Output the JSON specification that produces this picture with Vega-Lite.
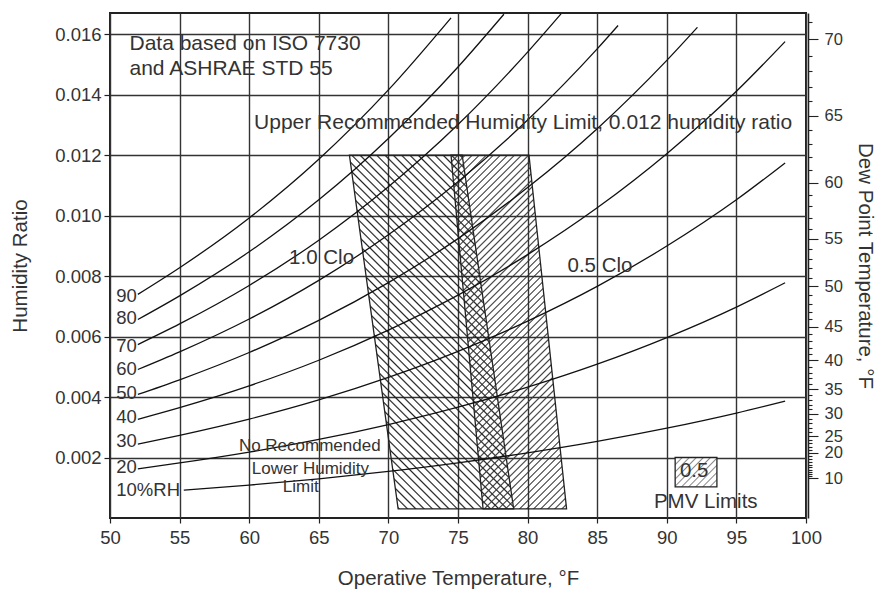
{
"$schema": "https://vega.github.io/schema/vega-lite/v6.json",
"width": 696, "height": 505,
"autosize": {"type": "none"},
"padding": {"left": 110, "top": 13, "right": 69, "bottom": 72},
"background": "white",
"datasets": {
"rh": [
{"rh":90,"T":52,"W":0.007395},{"rh":90,"T":55,"W":0.008276},{"rh":90,"T":60,"W":0.009922},{"rh":90,"T":65,"W":0.011863},{"rh":90,"T":70,"W":0.014156},{"rh":90,"T":74.5,"W":0.01654},
{"rh":80,"T":52,"W":0.006564},{"rh":80,"T":55,"W":0.007346},{"rh":80,"T":60,"W":0.008804},{"rh":80,"T":65,"W":0.010523},{"rh":80,"T":70,"W":0.012551},{"rh":80,"T":75,"W":0.014915},{"rh":80,"T":78.3,"W":0.01666},
{"rh":70,"T":52,"W":0.005736},{"rh":70,"T":55,"W":0.006418},{"rh":70,"T":60,"W":0.00769},{"rh":70,"T":65,"W":0.009188},{"rh":70,"T":70,"W":0.010954},{"rh":70,"T":75,"W":0.013011},{"rh":70,"T":80,"W":0.015407},{"rh":70,"T":82.4,"W":0.01667},
{"rh":60,"T":52,"W":0.00491},{"rh":60,"T":55,"W":0.005493},{"rh":60,"T":60,"W":0.00658},{"rh":60,"T":65,"W":0.007859},{"rh":60,"T":70,"W":0.009366},{"rh":60,"T":75,"W":0.011119},{"rh":60,"T":80,"W":0.013159},{"rh":60,"T":85,"W":0.015514},{"rh":60,"T":86.5,"W":0.016287},
{"rh":50,"T":52,"W":0.004086},{"rh":50,"T":55,"W":0.004571},{"rh":50,"T":60,"W":0.005473},{"rh":50,"T":65,"W":0.006535},{"rh":50,"T":70,"W":0.007785},{"rh":50,"T":75,"W":0.009238},{"rh":50,"T":80,"W":0.010928},{"rh":50,"T":85,"W":0.012875},{"rh":50,"T":90,"W":0.015134},{"rh":50,"T":92.2,"W":0.016228},
{"rh":40,"T":52,"W":0.003265},{"rh":40,"T":55,"W":0.003651},{"rh":40,"T":60,"W":0.004371},{"rh":40,"T":65,"W":0.005217},{"rh":40,"T":70,"W":0.006213},{"rh":40,"T":75,"W":0.007369},{"rh":40,"T":80,"W":0.008711},{"rh":40,"T":85,"W":0.010258},{"rh":40,"T":90,"W":0.012048},{"rh":40,"T":95,"W":0.014111},{"rh":40,"T":98.5,"W":0.015755},
{"rh":30,"T":52,"W":0.002445},{"rh":30,"T":55,"W":0.002735},{"rh":30,"T":60,"W":0.003272},{"rh":30,"T":65,"W":0.003905},{"rh":30,"T":70,"W":0.004648},{"rh":30,"T":75,"W":0.00551},{"rh":30,"T":80,"W":0.006511},{"rh":30,"T":85,"W":0.007661},{"rh":30,"T":90,"W":0.008993},{"rh":30,"T":95,"W":0.010523},{"rh":30,"T":98.5,"W":0.011742},
{"rh":20,"T":52,"W":0.001628},{"rh":20,"T":55,"W":0.00182},{"rh":20,"T":60,"W":0.002178},{"rh":20,"T":65,"W":0.002598},{"rh":20,"T":70,"W":0.003091},{"rh":20,"T":75,"W":0.003663},{"rh":20,"T":80,"W":0.004326},{"rh":20,"T":85,"W":0.005087},{"rh":20,"T":90,"W":0.005966},{"rh":20,"T":95,"W":0.006976},{"rh":20,"T":98.5,"W":0.007779},
{"rh":10,"T":55.3,"W":0.00092},{"rh":10,"T":60,"W":0.001087},{"rh":10,"T":65,"W":0.001296},{"rh":10,"T":70,"W":0.001542},{"rh":10,"T":75,"W":0.001826},{"rh":10,"T":80,"W":0.002155},{"rh":10,"T":85,"W":0.002533},{"rh":10,"T":90,"W":0.002969},{"rh":10,"T":95,"W":0.003469},{"rh":10,"T":98.5,"W":0.003865}
],
"zones": [
{"zone":"1.0","W":0.012,"Tl":67.2,"Tr":75.3},{"zone":"1.0","W":0.0003,"Tl":70.7,"Tr":79.0},
{"zone":"0.5","W":0.012,"Tl":74.5,"Tr":80.1},{"zone":"0.5","W":0.0003,"Tl":76.8,"Tr":82.8}
],
"box": [{"T1":90.6,"T2":93.6,"W1":0.00103,"W2":0.002}],
"labels": [
{"text":"Data based on ISO 7730","T":51.4,"W":0.01566,"g":"note"},
{"text":"and ASHRAE STD 55","T":51.4,"W":0.01485,"g":"note"},
{"text":"Upper Recommended Humidity Limit, 0.012 humidity ratio","T":60.35,"W":0.01305,"g":"note"},
{"text":"1.0 Clo","T":65.2,"W":0.00859,"g":"clo"},
{"text":"0.5 Clo","T":85.2,"W":0.00832,"g":"clo"},
{"text":"PMV Limits","T":92.8,"W":0.00054,"g":"clo"},
{"text":"No Recommended","T":64.35,"W":0.00237,"g":"low"},
{"text":"Lower Humidity","T":64.4,"W":0.00162,"g":"low"},
{"text":"Limit","T":63.7,"W":0.00103,"g":"low"},
{"text":"0.5","T":91.97,"W":0.00155,"g":"clo"},
{"text":"90","T":50.45,"W":0.007325,"g":"rh"},
{"text":"80","T":50.45,"W":0.006604,"g":"rh"},
{"text":"70","T":50.45,"W":0.005694,"g":"rh"},
{"text":"60","T":50.45,"W":0.00494,"g":"rh"},
{"text":"50","T":50.45,"W":0.004141,"g":"rh"},
{"text":"40","T":50.45,"W":0.003331,"g":"rh"},
{"text":"30","T":50.45,"W":0.002532,"g":"rh"},
{"text":"20","T":50.45,"W":0.0017,"g":"rh"},
{"text":"10%RH","T":50.45,"W":0.000924,"g":"rh"}
]
},
"layer": [
{"layer": [
{"data":{"name":"zones"},"transform":[{"filter":"datum.zone=='1.0'"}],
 "mark":{"type":"area","orient":"horizontal","stroke":"#222","strokeWidth":1.3,
  "fill":{"gradient":"linear","x1":0,"y1":1,"x2":0.5575,"y2":-0.2047,"stops":[
{"offset":0,"color":"#222"},{"offset":0.003,"color":"transparent"},{"offset":0.013,"color":"transparent"},
{"offset":0.016,"color":"#222"},{"offset":0.019,"color":"transparent"},{"offset":0.029,"color":"transparent"},
{"offset":0.032,"color":"#222"},{"offset":0.035,"color":"transparent"},{"offset":0.045,"color":"transparent"},
{"offset":0.048,"color":"#222"},{"offset":0.051,"color":"transparent"},{"offset":0.061,"color":"transparent"},
{"offset":0.064,"color":"#222"},{"offset":0.067,"color":"transparent"},{"offset":0.077,"color":"transparent"},
{"offset":0.08,"color":"#222"},{"offset":0.083,"color":"transparent"},{"offset":0.093,"color":"transparent"},
{"offset":0.096,"color":"#222"},{"offset":0.099,"color":"transparent"},{"offset":0.109,"color":"transparent"},
{"offset":0.112,"color":"#222"},{"offset":0.115,"color":"transparent"},{"offset":0.125,"color":"transparent"},
{"offset":0.128,"color":"#222"},{"offset":0.131,"color":"transparent"},{"offset":0.141,"color":"transparent"},
{"offset":0.144,"color":"#222"},{"offset":0.147,"color":"transparent"},{"offset":0.157,"color":"transparent"},
{"offset":0.16,"color":"#222"},{"offset":0.163,"color":"transparent"},{"offset":0.173,"color":"transparent"},
{"offset":0.176,"color":"#222"},{"offset":0.179,"color":"transparent"},{"offset":0.189,"color":"transparent"},
{"offset":0.192,"color":"#222"},{"offset":0.195,"color":"transparent"},{"offset":0.205,"color":"transparent"},
{"offset":0.208,"color":"#222"},{"offset":0.211,"color":"transparent"},{"offset":0.221,"color":"transparent"},
{"offset":0.224,"color":"#222"},{"offset":0.227,"color":"transparent"},{"offset":0.237,"color":"transparent"},
{"offset":0.24,"color":"#222"},{"offset":0.243,"color":"transparent"},{"offset":0.253,"color":"transparent"},
{"offset":0.256,"color":"#222"},{"offset":0.259,"color":"transparent"},{"offset":0.269,"color":"transparent"},
{"offset":0.272,"color":"#222"},{"offset":0.275,"color":"transparent"},{"offset":0.285,"color":"transparent"},
{"offset":0.288,"color":"#222"},{"offset":0.291,"color":"transparent"},{"offset":0.301,"color":"transparent"},
{"offset":0.304,"color":"#222"},{"offset":0.307,"color":"transparent"},{"offset":0.317,"color":"transparent"},
{"offset":0.32,"color":"#222"},{"offset":0.323,"color":"transparent"},{"offset":0.333,"color":"transparent"},
{"offset":0.336,"color":"#222"},{"offset":0.339,"color":"transparent"},{"offset":0.349,"color":"transparent"},
{"offset":0.352,"color":"#222"},{"offset":0.355,"color":"transparent"},{"offset":0.365,"color":"transparent"},
{"offset":0.368,"color":"#222"},{"offset":0.371,"color":"transparent"},{"offset":0.381,"color":"transparent"},
{"offset":0.384,"color":"#222"},{"offset":0.387,"color":"transparent"},{"offset":0.397,"color":"transparent"},
{"offset":0.4,"color":"#222"},{"offset":0.403,"color":"transparent"},{"offset":0.413,"color":"transparent"},
{"offset":0.416,"color":"#222"},{"offset":0.419,"color":"transparent"},{"offset":0.429,"color":"transparent"},
{"offset":0.432,"color":"#222"},{"offset":0.435,"color":"transparent"},{"offset":0.445,"color":"transparent"},
{"offset":0.448,"color":"#222"},{"offset":0.451,"color":"transparent"},{"offset":0.461,"color":"transparent"},
{"offset":0.464,"color":"#222"},{"offset":0.467,"color":"transparent"},{"offset":0.477,"color":"transparent"},
{"offset":0.48,"color":"#222"},{"offset":0.483,"color":"transparent"},{"offset":0.493,"color":"transparent"},
{"offset":0.496,"color":"#222"},{"offset":0.499,"color":"transparent"},{"offset":0.509,"color":"transparent"},
{"offset":0.512,"color":"#222"},{"offset":0.515,"color":"transparent"},{"offset":0.525,"color":"transparent"},
{"offset":0.528,"color":"#222"},{"offset":0.531,"color":"transparent"},{"offset":0.541,"color":"transparent"},
{"offset":0.544,"color":"#222"},{"offset":0.547,"color":"transparent"},{"offset":0.557,"color":"transparent"},
{"offset":0.56,"color":"#222"},{"offset":0.563,"color":"transparent"},{"offset":0.573,"color":"transparent"},
{"offset":0.576,"color":"#222"},{"offset":0.579,"color":"transparent"},{"offset":0.589,"color":"transparent"},
{"offset":0.592,"color":"#222"},{"offset":0.595,"color":"transparent"},{"offset":0.605,"color":"transparent"},
{"offset":0.608,"color":"#222"},{"offset":0.611,"color":"transparent"},{"offset":0.621,"color":"transparent"},
{"offset":0.624,"color":"#222"},{"offset":0.627,"color":"transparent"},{"offset":0.637,"color":"transparent"},
{"offset":0.64,"color":"#222"},{"offset":0.643,"color":"transparent"},{"offset":0.653,"color":"transparent"},
{"offset":0.656,"color":"#222"},{"offset":0.659,"color":"transparent"},{"offset":0.669,"color":"transparent"},
{"offset":0.672,"color":"#222"},{"offset":0.675,"color":"transparent"},{"offset":0.685,"color":"transparent"},
{"offset":0.688,"color":"#222"},{"offset":0.691,"color":"transparent"},{"offset":0.701,"color":"transparent"},
{"offset":0.704,"color":"#222"},{"offset":0.707,"color":"transparent"},{"offset":0.717,"color":"transparent"},
{"offset":0.72,"color":"#222"},{"offset":0.723,"color":"transparent"},{"offset":0.733,"color":"transparent"},
{"offset":0.736,"color":"#222"},{"offset":0.739,"color":"transparent"},{"offset":0.749,"color":"transparent"},
{"offset":0.752,"color":"#222"},{"offset":0.755,"color":"transparent"},{"offset":0.765,"color":"transparent"},
{"offset":0.768,"color":"#222"},{"offset":0.771,"color":"transparent"},{"offset":0.781,"color":"transparent"},
{"offset":0.784,"color":"#222"},{"offset":0.787,"color":"transparent"},{"offset":0.797,"color":"transparent"},
{"offset":0.8,"color":"#222"},{"offset":0.803,"color":"transparent"},{"offset":0.813,"color":"transparent"},
{"offset":0.816,"color":"#222"},{"offset":0.819,"color":"transparent"},{"offset":0.829,"color":"transparent"},
{"offset":0.832,"color":"#222"},{"offset":0.835,"color":"transparent"},{"offset":0.845,"color":"transparent"},
{"offset":0.848,"color":"#222"},{"offset":0.851,"color":"transparent"},{"offset":0.861,"color":"transparent"},
{"offset":0.864,"color":"#222"},{"offset":0.867,"color":"transparent"},{"offset":0.877,"color":"transparent"},
{"offset":0.88,"color":"#222"},{"offset":0.883,"color":"transparent"},{"offset":0.893,"color":"transparent"},
{"offset":0.896,"color":"#222"},{"offset":0.899,"color":"transparent"},{"offset":0.909,"color":"transparent"},
{"offset":0.912,"color":"#222"},{"offset":0.915,"color":"transparent"},{"offset":0.925,"color":"transparent"},
{"offset":0.928,"color":"#222"},{"offset":0.931,"color":"transparent"},{"offset":0.941,"color":"transparent"},
{"offset":0.944,"color":"#222"},{"offset":0.947,"color":"transparent"},{"offset":0.957,"color":"transparent"},
{"offset":0.96,"color":"#222"},{"offset":0.963,"color":"transparent"},{"offset":0.973,"color":"transparent"},
{"offset":0.976,"color":"#222"},{"offset":0.979,"color":"transparent"},{"offset":0.989,"color":"transparent"},
{"offset":0.992,"color":"#222"},{"offset":0.995,"color":"transparent"},{"offset":1,"color":"transparent"}
  ]}},
 "encoding":{
  "y":{"field":"W","type":"quantitative","title":"Humidity Ratio","scale":{"domain":[0,0.0167],"nice":false,"zero":false},
   "axis":{"orient":"left","values":[0.002,0.004,0.006,0.008,0.01,0.012,0.014,0.016],"format":".3f","grid":true,"gridColor":"#333","gridWidth":1.4,"domain":false,"tickSize":6,"tickColor":"#222","tickWidth":1.2,"labelFontSize":18.5,"labelPadding":3,"labelColor":"#333","labelFlush":false,"titleFontSize":20.5,"titlePadding":24,"titleColor":"#333","titleFontWeight":"normal"}},
  "x":{"field":"Tl","type":"quantitative","title":"Operative Temperature, °F","scale":{"domain":[50,100],"nice":false,"zero":false},
   "axis":{"orient":"bottom","values":[50,55,60,65,70,75,80,85,90,95,100],"grid":true,"gridColor":"#333","gridWidth":1.4,"domain":false,"tickSize":5,"tickColor":"#222","tickWidth":1.2,"labelFontSize":18.5,"labelPadding":5,"labelColor":"#333","labelFlush":false,"titleFontSize":20.5,"titlePadding":22,"titleColor":"#333","titleFontWeight":"normal"}},
  "x2":{"field":"Tr"}
 }},
{"data":{"name":"zones"},"transform":[{"filter":"datum.zone=='0.5'"}],
 "mark":{"type":"area","orient":"horizontal","stroke":"#222","strokeWidth":1.3,
  "fill":{"gradient":"linear","x1":0,"y1":0,"x2":0.39,"y2":1.1985,"stops":[
{"offset":0,"color":"#444"},{"offset":0.003,"color":"transparent"},{"offset":0.012,"color":"transparent"},
{"offset":0.015,"color":"#444"},{"offset":0.018,"color":"transparent"},{"offset":0.027,"color":"transparent"},
{"offset":0.03,"color":"#444"},{"offset":0.033,"color":"transparent"},{"offset":0.042,"color":"transparent"},
{"offset":0.045,"color":"#444"},{"offset":0.048,"color":"transparent"},{"offset":0.057,"color":"transparent"},
{"offset":0.06,"color":"#444"},{"offset":0.063,"color":"transparent"},{"offset":0.072,"color":"transparent"},
{"offset":0.075,"color":"#444"},{"offset":0.078,"color":"transparent"},{"offset":0.087,"color":"transparent"},
{"offset":0.09,"color":"#444"},{"offset":0.093,"color":"transparent"},{"offset":0.102,"color":"transparent"},
{"offset":0.105,"color":"#444"},{"offset":0.108,"color":"transparent"},{"offset":0.117,"color":"transparent"},
{"offset":0.12,"color":"#444"},{"offset":0.123,"color":"transparent"},{"offset":0.132,"color":"transparent"},
{"offset":0.135,"color":"#444"},{"offset":0.138,"color":"transparent"},{"offset":0.147,"color":"transparent"},
{"offset":0.15,"color":"#444"},{"offset":0.153,"color":"transparent"},{"offset":0.162,"color":"transparent"},
{"offset":0.165,"color":"#444"},{"offset":0.168,"color":"transparent"},{"offset":0.177,"color":"transparent"},
{"offset":0.18,"color":"#444"},{"offset":0.183,"color":"transparent"},{"offset":0.192,"color":"transparent"},
{"offset":0.195,"color":"#444"},{"offset":0.198,"color":"transparent"},{"offset":0.207,"color":"transparent"},
{"offset":0.21,"color":"#444"},{"offset":0.213,"color":"transparent"},{"offset":0.222,"color":"transparent"},
{"offset":0.225,"color":"#444"},{"offset":0.228,"color":"transparent"},{"offset":0.237,"color":"transparent"},
{"offset":0.24,"color":"#444"},{"offset":0.243,"color":"transparent"},{"offset":0.252,"color":"transparent"},
{"offset":0.255,"color":"#444"},{"offset":0.258,"color":"transparent"},{"offset":0.267,"color":"transparent"},
{"offset":0.27,"color":"#444"},{"offset":0.273,"color":"transparent"},{"offset":0.282,"color":"transparent"},
{"offset":0.285,"color":"#444"},{"offset":0.288,"color":"transparent"},{"offset":0.297,"color":"transparent"},
{"offset":0.3,"color":"#444"},{"offset":0.303,"color":"transparent"},{"offset":0.312,"color":"transparent"},
{"offset":0.315,"color":"#444"},{"offset":0.318,"color":"transparent"},{"offset":0.327,"color":"transparent"},
{"offset":0.33,"color":"#444"},{"offset":0.333,"color":"transparent"},{"offset":0.342,"color":"transparent"},
{"offset":0.345,"color":"#444"},{"offset":0.348,"color":"transparent"},{"offset":0.357,"color":"transparent"},
{"offset":0.36,"color":"#444"},{"offset":0.363,"color":"transparent"},{"offset":0.372,"color":"transparent"},
{"offset":0.375,"color":"#444"},{"offset":0.378,"color":"transparent"},{"offset":0.387,"color":"transparent"},
{"offset":0.39,"color":"#444"},{"offset":0.393,"color":"transparent"},{"offset":0.402,"color":"transparent"},
{"offset":0.405,"color":"#444"},{"offset":0.408,"color":"transparent"},{"offset":0.417,"color":"transparent"},
{"offset":0.42,"color":"#444"},{"offset":0.423,"color":"transparent"},{"offset":0.432,"color":"transparent"},
{"offset":0.435,"color":"#444"},{"offset":0.438,"color":"transparent"},{"offset":0.447,"color":"transparent"},
{"offset":0.45,"color":"#444"},{"offset":0.453,"color":"transparent"},{"offset":0.462,"color":"transparent"},
{"offset":0.465,"color":"#444"},{"offset":0.468,"color":"transparent"},{"offset":0.477,"color":"transparent"},
{"offset":0.48,"color":"#444"},{"offset":0.483,"color":"transparent"},{"offset":0.492,"color":"transparent"},
{"offset":0.495,"color":"#444"},{"offset":0.498,"color":"transparent"},{"offset":0.507,"color":"transparent"},
{"offset":0.51,"color":"#444"},{"offset":0.513,"color":"transparent"},{"offset":0.522,"color":"transparent"},
{"offset":0.525,"color":"#444"},{"offset":0.528,"color":"transparent"},{"offset":0.537,"color":"transparent"},
{"offset":0.54,"color":"#444"},{"offset":0.543,"color":"transparent"},{"offset":0.552,"color":"transparent"},
{"offset":0.555,"color":"#444"},{"offset":0.558,"color":"transparent"},{"offset":0.567,"color":"transparent"},
{"offset":0.57,"color":"#444"},{"offset":0.573,"color":"transparent"},{"offset":0.582,"color":"transparent"},
{"offset":0.585,"color":"#444"},{"offset":0.588,"color":"transparent"},{"offset":0.597,"color":"transparent"},
{"offset":0.6,"color":"#444"},{"offset":0.603,"color":"transparent"},{"offset":0.612,"color":"transparent"},
{"offset":0.615,"color":"#444"},{"offset":0.618,"color":"transparent"},{"offset":0.627,"color":"transparent"},
{"offset":0.63,"color":"#444"},{"offset":0.633,"color":"transparent"},{"offset":0.642,"color":"transparent"},
{"offset":0.645,"color":"#444"},{"offset":0.648,"color":"transparent"},{"offset":0.657,"color":"transparent"},
{"offset":0.66,"color":"#444"},{"offset":0.663,"color":"transparent"},{"offset":0.672,"color":"transparent"},
{"offset":0.675,"color":"#444"},{"offset":0.678,"color":"transparent"},{"offset":0.687,"color":"transparent"},
{"offset":0.69,"color":"#444"},{"offset":0.693,"color":"transparent"},{"offset":0.702,"color":"transparent"},
{"offset":0.705,"color":"#444"},{"offset":0.708,"color":"transparent"},{"offset":0.717,"color":"transparent"},
{"offset":0.72,"color":"#444"},{"offset":0.723,"color":"transparent"},{"offset":0.732,"color":"transparent"},
{"offset":0.735,"color":"#444"},{"offset":0.738,"color":"transparent"},{"offset":0.747,"color":"transparent"},
{"offset":0.75,"color":"#444"},{"offset":0.753,"color":"transparent"},{"offset":0.762,"color":"transparent"},
{"offset":0.765,"color":"#444"},{"offset":0.768,"color":"transparent"},{"offset":0.777,"color":"transparent"},
{"offset":0.78,"color":"#444"},{"offset":0.783,"color":"transparent"},{"offset":0.792,"color":"transparent"},
{"offset":0.795,"color":"#444"},{"offset":0.798,"color":"transparent"},{"offset":0.807,"color":"transparent"},
{"offset":0.81,"color":"#444"},{"offset":0.813,"color":"transparent"},{"offset":0.822,"color":"transparent"},
{"offset":0.825,"color":"#444"},{"offset":0.828,"color":"transparent"},{"offset":0.837,"color":"transparent"},
{"offset":0.84,"color":"#444"},{"offset":0.843,"color":"transparent"},{"offset":0.852,"color":"transparent"},
{"offset":0.855,"color":"#444"},{"offset":0.858,"color":"transparent"},{"offset":0.867,"color":"transparent"},
{"offset":0.87,"color":"#444"},{"offset":0.873,"color":"transparent"},{"offset":0.882,"color":"transparent"},
{"offset":0.885,"color":"#444"},{"offset":0.888,"color":"transparent"},{"offset":0.897,"color":"transparent"},
{"offset":0.9,"color":"#444"},{"offset":0.903,"color":"transparent"},{"offset":0.912,"color":"transparent"},
{"offset":0.915,"color":"#444"},{"offset":0.918,"color":"transparent"},{"offset":0.927,"color":"transparent"},
{"offset":0.93,"color":"#444"},{"offset":0.933,"color":"transparent"},{"offset":0.942,"color":"transparent"},
{"offset":0.945,"color":"#444"},{"offset":0.948,"color":"transparent"},{"offset":0.957,"color":"transparent"},
{"offset":0.96,"color":"#444"},{"offset":0.963,"color":"transparent"},{"offset":0.972,"color":"transparent"},
{"offset":0.975,"color":"#444"},{"offset":0.978,"color":"transparent"},{"offset":0.987,"color":"transparent"},
{"offset":0.99,"color":"#444"},{"offset":0.993,"color":"transparent"},{"offset":1,"color":"transparent"}
  ]}},
 "encoding":{
  "y":{"field":"W","type":"quantitative","title":"Humidity Ratio"},
  "x":{"field":"Tl","type":"quantitative","title":"Operative Temperature, °F"},
  "x2":{"field":"Tr"}
 }},
{"data":{"name":"rh"},
 "mark":{"type":"line","interpolate":"monotone","color":"#111","strokeWidth":1.3,"clip":true},
 "encoding":{
  "x":{"field":"T","type":"quantitative","title":"Operative Temperature, °F"},
  "y":{"field":"W","type":"quantitative","title":"Humidity Ratio"},
  "detail":{"field":"rh","type":"nominal"}
 }},
{"data":{"name":"box"},
 "mark":{"type":"rect","stroke":"#222","strokeWidth":1.3,
  "fill":{"gradient":"linear","x1":0,"y1":0,"x2":1.144,"y2":0.79,"stops":[
{"offset":0,"color":"#888"},{"offset":0.02,"color":"white"},{"offset":0.08,"color":"white"},
{"offset":0.1,"color":"#888"},{"offset":0.12,"color":"white"},{"offset":0.18,"color":"white"},
{"offset":0.2,"color":"#888"},{"offset":0.22,"color":"white"},{"offset":0.28,"color":"white"},
{"offset":0.3,"color":"#888"},{"offset":0.32,"color":"white"},{"offset":0.38,"color":"white"},
{"offset":0.4,"color":"#888"},{"offset":0.42,"color":"white"},{"offset":0.48,"color":"white"},
{"offset":0.5,"color":"#888"},{"offset":0.52,"color":"white"},{"offset":0.58,"color":"white"},
{"offset":0.6,"color":"#888"},{"offset":0.62,"color":"white"},{"offset":0.68,"color":"white"},
{"offset":0.7,"color":"#888"},{"offset":0.72,"color":"white"},{"offset":0.78,"color":"white"},
{"offset":0.8,"color":"#888"},{"offset":0.82,"color":"white"},{"offset":0.88,"color":"white"},
{"offset":0.9,"color":"#888"},{"offset":0.92,"color":"white"},{"offset":0.98,"color":"white"},
{"offset":1,"color":"#888"}
  ]}},
 "encoding":{
  "x":{"field":"T1","type":"quantitative","title":"Operative Temperature, °F"},
  "x2":{"field":"T2"},
  "y":{"field":"W1","type":"quantitative","title":"Humidity Ratio"},
  "y2":{"field":"W2"}
 }}
]},
{"layer": [
{"data":{"name":"labels"},"transform":[{"filter":"datum.g=='note'"}],
 "mark":{"type":"text","align":"left","baseline":"middle","fontSize":21,"color":"#333"},
 "encoding":{
  "x":{"field":"T","type":"quantitative","title":"Operative Temperature, °F"},
  "y":{"field":"W","type":"quantitative","title":"Dew Point Temperature, °F","scale":{"domain":[0,0.0167],"nice":false,"zero":false},
   "axis":{"orient":"right","offset":2,"grid":false,"domain":true,"domainColor":"#222","domainWidth":1.5,"tickCount":200,
    "values":[0.001315,0.001381,0.001451,0.001525,0.001602,0.001683,0.001768,0.001857,0.001951,0.002049,0.002152,0.002254,0.00236,0.002471,0.002588,0.00271,0.002842,0.002981,0.003127,0.00328,0.00344,0.003591,0.003748,0.003912,0.004083,0.004262,0.004437,0.00462,0.00481,0.005007,0.005213,0.005418,0.005631,0.005852,0.006083,0.006322,0.006569,0.006826,0.007093,0.00737,0.007658,0.007949,0.008251,0.008564,0.008889,0.009227,0.009572,0.00993,0.010302,0.010687,0.011087,0.011499,0.011927,0.01237,0.01283,0.013307,0.013778,0.014265,0.014769,0.015291,0.015832,0.016392],
    "labelExpr":"datum.value==0.015832?'70':datum.value==0.013307?'65':datum.value==0.011087?'60':datum.value==0.009227?'55':datum.value==0.007658?'50':datum.value==0.006322?'45':datum.value==0.005213?'40':datum.value==0.004262?'35':datum.value==0.00344?'30':datum.value==0.00271?'25':datum.value==0.002152?'20':datum.value==0.001315?'10':''",
    "tickSize":{"condition":{"test":"indexof([0.001315,0.002152,0.00271,0.00344,0.004262,0.005213,0.006322,0.007658,0.009227,0.011087,0.013307,0.015832],datum.value)>=0","value":10},"value":4},
    "tickColor":"#222","tickWidth":1.1,"labelFontSize":16.5,"labelPadding":6,"labelColor":"#333","labelOverlap":false,"labelFlush":false,"labelBound":false,
    "titleFontSize":20.5,"titlePadding":12,"titleColor":"#333","titleFontWeight":"normal"}},
  "text":{"field":"text"}
 }},
{"data":{"name":"labels"},"transform":[{"filter":"datum.g=='clo'"}],
 "mark":{"type":"text","align":"center","baseline":"middle","fontSize":20.5,"color":"#333"},
 "encoding":{
  "x":{"field":"T","type":"quantitative","title":"Operative Temperature, °F"},
  "y":{"field":"W","type":"quantitative","title":"Dew Point Temperature, °F"},
  "text":{"field":"text"}
 }},
{"data":{"name":"labels"},"transform":[{"filter":"datum.g=='low'"}],
 "mark":{"type":"text","align":"center","baseline":"middle","fontSize":17,"color":"#333"},
 "encoding":{
  "x":{"field":"T","type":"quantitative","title":"Operative Temperature, °F"},
  "y":{"field":"W","type":"quantitative","title":"Dew Point Temperature, °F"},
  "text":{"field":"text"}
 }},
{"data":{"name":"labels"},"transform":[{"filter":"datum.g=='rh'"}],
 "mark":{"type":"text","align":"left","baseline":"middle","fontSize":18.5,"color":"#333"},
 "encoding":{
  "x":{"field":"T","type":"quantitative","title":"Operative Temperature, °F"},
  "y":{"field":"W","type":"quantitative","title":"Dew Point Temperature, °F"},
  "text":{"field":"text"}
 }}
]}
],
"resolve": {"scale": {"y": "independent"}},
"config": {
 "font": "Liberation Sans",
 "view": {"stroke": "#222", "strokeWidth": 2},
 "axis": {"labelFont": "Liberation Sans", "titleFont": "Liberation Sans", "titleFontWeight": "normal"}
}
}
